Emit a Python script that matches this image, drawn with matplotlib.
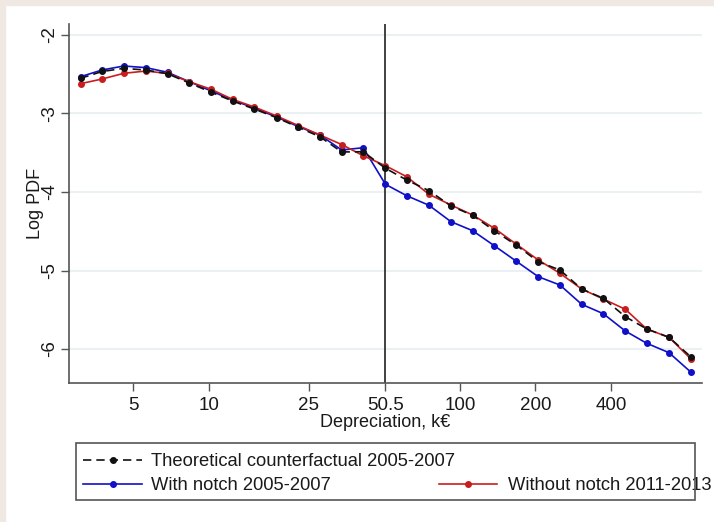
import matplotlib
matplotlib.use("Agg")
import matplotlib.pyplot as plt
from matplotlib.lines import Line2D
from matplotlib.patches import Rectangle

plt.rcParams['font.family'] = ['Liberation Sans', 'DejaVu Sans']
plt.rcParams['axes.unicode_minus'] = False

# bin centres of depreciation, k euro
depreciation = [3.08, 3.75, 4.58, 5.61, 6.84, 8.35, 10.21, 12.43, 15.15, 18.61,
                22.69, 27.69, 33.80, 41.19, 50.5, 61.37, 75.29, 92.14, 112.4, 137.1,
                167.3, 205.3, 250.5, 305.8, 372.7, 456.2, 555.2, 681.3, 831.3]

counterfactual = [-2.552, -2.465, -2.425, -2.446, -2.494, -2.611, -2.730, -2.841,
                  -2.943, -3.053, -3.176, -3.296, -3.490, -3.487, -3.698, -3.847,
                  -3.983, -4.178, -4.297, -4.493, -4.675, -4.888, -4.994, -5.236,
                  -5.354, -5.588, -5.745, -5.851, -6.098]

with_notch = [-2.531, -2.446, -2.395, -2.416, -2.475, -2.595, -2.713, -2.830,
              -2.930, -3.045, -3.166, -3.274, -3.465, -3.436, -3.902, -4.047,
              -4.169, -4.378, -4.493, -4.684, -4.879, -5.079, -5.185, -5.431,
              -5.550, -5.771, -5.927, -6.047, -6.293]

without_notch = [-2.620, -2.561, -2.488, -2.459, -2.490, -2.595, -2.692, -2.820,
                 -2.917, -3.032, -3.153, -3.274, -3.395, -3.538, -3.665, -3.805,
                 -4.029, -4.166, -4.293, -4.462, -4.662, -4.866, -5.036, -5.236,
                 -5.363, -5.494, -5.745, -5.851, -6.124]

notch = 50.5
x_ticks = [5, 10, 25, 50.5, 100, 200, 400]
x_tick_labels = ['5', '10', '25', '50.5', '100', '200', '400']
y_ticks = [-2, -3, -4, -5, -6]
y_tick_labels = ['-2', '-3', '-4', '-5', '-6']

BLUE = '#1010c8'
RED = '#c81e1e'
BLACK = '#111111'
DASH = (0, (5, 3))
W, H = 714, 522


def fx(px):
    return px / W


def fy(py):
    return 1 - py / H


fig = plt.figure(figsize=(W / 100, H / 100), dpi=100)
fig.patch.set_facecolor('white')
# light frame along the top and left edges
fig.patches.append(Rectangle((0, fy(5)), 1, 5 / H, transform=fig.transFigure,
                             color='#f0e9e3', zorder=0))
fig.patches.append(Rectangle((0, 0), fx(5), 1, transform=fig.transFigure,
                             color='#f0e9e3', zorder=0))

ax = fig.add_axes([fx(69), fy(383), fx(633), 359 / H])
ax.set_xscale('log')
ax.set_xlim(2.77, 922)
ax.set_ylim(-6.433, -1.86)

for y in y_ticks:
    ax.axhline(y, color='#eaf1f3', lw=1.5, zorder=0)

ax.axvline(notch, color='#333333', lw=1.3, zorder=1)

ax.plot(depreciation, with_notch, color=BLUE, lw=1.2, marker='o', ms=4, zorder=3)
ax.plot(depreciation, without_notch, color=RED, lw=1.2, marker='o', ms=4, zorder=3)
ax.plot(depreciation, counterfactual, color=BLACK, lw=1.2, ls=DASH,
        marker='o', ms=4, zorder=4)

ax.set_xticks(x_ticks)
ax.set_xticklabels(x_tick_labels)
ax.xaxis.set_minor_locator(matplotlib.ticker.NullLocator())
ax.set_yticks(y_ticks)
ax.set_yticklabels(y_tick_labels, rotation=90, va='center')

ax.tick_params(axis='both', labelsize=13.5, color='#555555', width=1, length=6,
               direction='out', labelcolor='#1a1a1a')
ax.tick_params(axis='y', pad=1.5)
ax.tick_params(axis='x', pad=4)

for side in ['top', 'right']:
    ax.spines[side].set_visible(False)
for side in ['left', 'bottom']:
    ax.spines[side].set_color('#555555')
    ax.spines[side].set_linewidth(1.2)

ax.set_xlabel('Depreciation, k€', fontsize=13, labelpad=0, color='#1a1a1a')
ax.set_ylabel('Log PDF', fontsize=13, color='#1a1a1a')
ax.yaxis.set_label_coords(-0.0395, 0.5)

# legend box: two rows, the second column holds only the last entry
fig.patches.append(Rectangle((fx(76), fy(500)), fx(695) - fx(76), fy(443) - fy(500),
                             transform=fig.transFigure, fill=False,
                             edgecolor='#555555', lw=1.2, zorder=5))
legend_rows = [
    (83, 142, 459.5, BLACK, DASH, 'Theoretical counterfactual 2005-2007', 151),
    (83, 142, 484, BLUE, '-', 'With notch 2005-2007', 151),
    (439, 497, 484, RED, '-', 'Without notch 2011-2013', 507.5),
]
for x0, x1, yy, col, ls, label, tx in legend_rows:
    fig.add_artist(Line2D([fx(x0), fx(x1)], [fy(yy), fy(yy)], color=col, lw=1.2,
                          ls=ls, transform=fig.transFigure))
    fig.add_artist(Line2D([fx((x0 + x1) / 2)], [fy(yy)], color=col, marker='o',
                          ms=4, transform=fig.transFigure))
    fig.text(fx(tx), fy(yy), label, fontsize=13.2, color='#1a1a1a',
             ha='left', va='center_baseline')

fig.savefig('out.png', dpi=100)
